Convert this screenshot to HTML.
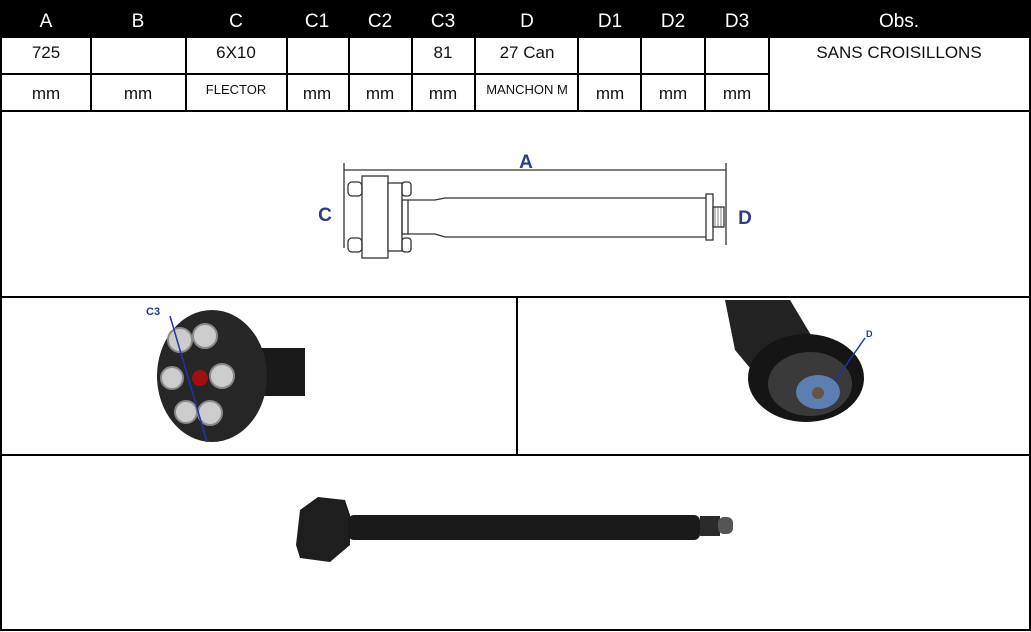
<!DOCTYPE html>
<html><head><meta charset="utf-8"><style>
body{margin:0;background:#fff;width:1031px;height:632px;overflow:hidden;font-family:"Liberation Sans",sans-serif;}
.c{position:absolute;box-sizing:border-box;text-align:center;font-size:17px;color:#111;}
</style></head><body>
<svg width="1031" height="632" style="position:absolute;left:0;top:0">
<rect x="0" y="0" width="1031" height="632" fill="#fff"/>
<!-- header -->
<rect x="0" y="2" width="1031" height="36" fill="#000"/>
<line x1="182" y1="0" x2="182" y2="2" stroke="#000" stroke-width="2"/>
<line x1="808" y1="0" x2="808" y2="2" stroke="#000" stroke-width="2"/>
<g fill="#fff" font-family="Liberation Sans, sans-serif" font-size="19" text-anchor="middle">
<text x="46" y="27">A</text><text x="138" y="27">B</text><text x="236" y="27">C</text>
<text x="317" y="27">C1</text><text x="380" y="27">C2</text><text x="443" y="27">C3</text>
<text x="527" y="27">D</text><text x="610" y="27">D1</text><text x="673" y="27">D2</text>
<text x="737" y="27">D3</text><text x="899" y="27">Obs.</text>
</g>
<!-- grid -->
<g stroke="#000" stroke-width="2" fill="none">
<rect x="1" y="1" width="1029" height="629"/>
<line x1="0" y1="74" x2="769" y2="74"/>
<line x1="0" y1="111" x2="1031" y2="111"/>
<line x1="0" y1="297" x2="1031" y2="297"/>
<line x1="0" y1="455" x2="1031" y2="455"/>
<line x1="517" y1="297" x2="517" y2="455"/>
<line x1="91" y1="38" x2="91" y2="111"/><line x1="186" y1="38" x2="186" y2="111"/>
<line x1="287" y1="38" x2="287" y2="111"/><line x1="349" y1="38" x2="349" y2="111"/>
<line x1="412" y1="38" x2="412" y2="111"/><line x1="475" y1="38" x2="475" y2="111"/>
<line x1="578" y1="38" x2="578" y2="111"/><line x1="641" y1="38" x2="641" y2="111"/>
<line x1="705" y1="38" x2="705" y2="111"/><line x1="769" y1="38" x2="769" y2="111"/>
</g>
<g fill="#111" font-family="Liberation Sans, sans-serif" font-size="17" text-anchor="middle">
<text x="46" y="58">725</text><text x="236" y="58">6X10</text><text x="443" y="58">81</text>
<text x="527" y="58">27 Can</text><text x="899" y="58">SANS CROISILLONS</text>
<text x="46" y="99">mm</text><text x="138" y="99">mm</text>
<text x="317" y="99">mm</text><text x="380" y="99">mm</text><text x="443" y="99">mm</text>
<text x="610" y="99">mm</text><text x="673" y="99">mm</text><text x="737" y="99">mm</text>
<text x="236" y="94" font-size="13">FLECTOR</text><text x="527" y="94" font-size="13">MANCHON M</text>
</g>
<!-- technical drawing -->
<g stroke="#333" stroke-width="1.3" fill="none">
<line x1="344" y1="170" x2="726" y2="170"/>
<line x1="344" y1="163" x2="344" y2="248"/>
<line x1="726" y1="163" x2="726" y2="245"/>
<rect x="362" y="176" width="26" height="82" fill="#fff"/>
<rect x="388" y="183" width="14" height="68" fill="#fff"/>
<rect x="348" y="182" width="14" height="14" rx="4"/>
<rect x="348" y="238" width="14" height="14" rx="4"/>
<rect x="402" y="182" width="9" height="14" rx="3"/>
<rect x="402" y="238" width="9" height="14" rx="3"/>
<rect x="402" y="200" width="6" height="34"/>
<path d="M408 200 L435 200 L445 198 L706 198 M408 234 L435 234 L445 237 L706 237"/>
<rect x="706" y="194" width="7" height="46" fill="#fff"/>
<rect x="713" y="207" width="11" height="20"/>
<path d="M715 207 V227 M718 207 V227 M721 207 V227" stroke-width="0.6"/>
</g>
<g fill="#2e3a8c" font-family="Liberation Sans, sans-serif" font-weight="bold" font-size="19" text-anchor="middle">
<text x="526" y="168">A</text><text x="325" y="221">C</text><text x="745" y="224">D</text>
</g>
<!-- left photo flector -->
<rect x="255" y="348" width="50" height="48" fill="#1a1a1a"/>
<ellipse cx="212" cy="376" rx="55" ry="66" fill="#262626"/>
<g fill="#ccc" stroke="#888" stroke-width="2">
<circle cx="180" cy="340" r="12"/><circle cx="205" cy="336" r="12"/><circle cx="172" cy="378" r="11"/>
<circle cx="222" cy="376" r="12"/><circle cx="186" cy="412" r="11"/><circle cx="210" cy="413" r="12"/>
</g>
<circle cx="200" cy="378" r="8" fill="#a01010"/>
<line x1="170" y1="316" x2="207" y2="442" stroke="#2233aa" stroke-width="1.5"/>
<text x="146" y="315" fill="#2233aa" font-family="Liberation Sans, sans-serif" font-weight="bold" font-size="11">C3</text>
<!-- right photo -->
<path d="M725 300 L790 300 L820 350 L760 380 L735 350 Z" fill="#222"/>
<ellipse cx="806" cy="378" rx="58" ry="44" fill="#151515"/>
<ellipse cx="810" cy="384" rx="42" ry="32" fill="#3a3a3a"/>
<ellipse cx="818" cy="392" rx="22" ry="17" fill="#5b7fb0"/>
<circle cx="818" cy="393" r="6" fill="#665544"/>
<line x1="835" y1="381" x2="865" y2="338" stroke="#2233aa" stroke-width="1.5"/>
<text x="866" y="337" fill="#2233aa" font-family="Liberation Sans, sans-serif" font-weight="bold" font-size="9">D</text>
<!-- bottom shaft -->
<path d="M300 510 L318 497 L345 500 L350 515 L350 545 L330 562 L300 558 L296 545 Z" fill="#1e1e1e"/>
<rect x="348" y="515" width="352" height="25" rx="6" fill="#1a1a1a"/>
<rect x="700" y="516" width="20" height="20" fill="#2a2a2a"/>
<rect x="718" y="517" width="15" height="17" rx="6" fill="#555"/>
</svg>
</body></html>
